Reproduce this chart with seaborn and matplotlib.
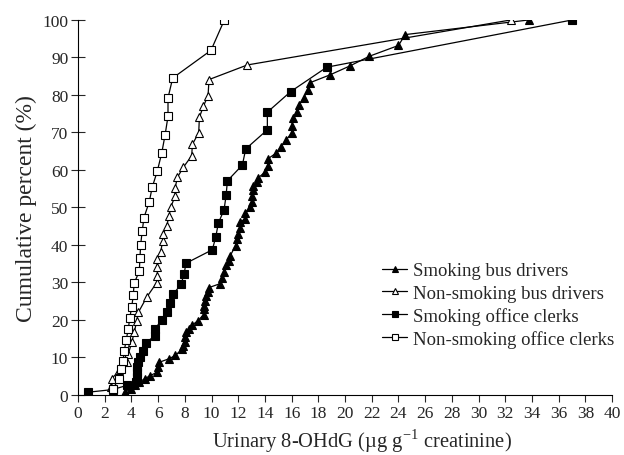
import numpy as np
import pandas as pd
import matplotlib
matplotlib.use("Agg")
import matplotlib.pyplot as plt
import seaborn as sns

sns.set_style("white")
plt.rcParams['font.family'] = ['Liberation Serif', 'DejaVu Serif']

# smoking bus drivers (filled triangles)
sbd_x = [3.5, 4.0, 4.3, 4.6, 5.0, 5.4, 5.9, 6.0, 6.1, 6.8, 7.3, 7.8, 7.9, 8.0, 8.0,
         8.1, 8.3, 8.5, 9.0, 9.4, 9.4, 9.4, 9.5, 9.6, 9.7, 9.8, 10.6, 10.8, 10.9, 11.1,
         11.3, 11.4, 11.8, 11.9, 12.0, 12.1, 12.1, 12.5, 12.5, 12.9, 13.0, 13.0, 13.1, 13.1,
         13.4, 13.5, 14.0, 14.2, 14.2, 14.8, 15.2, 15.6, 16.0, 16.0, 16.1, 16.4, 16.55, 16.9,
         17.2, 17.4, 18.9, 20.4, 21.8, 24.0, 24.5, 33.75]
sbd_y = [0.7, 1.6, 2.5, 3.4, 4.3, 5.1, 6.0, 7.4, 8.7, 9.6, 10.5, 12.3, 13.1, 14.0, 15.4,
         16.7, 17.6, 18.5, 19.8, 21.4, 22.9, 23.8, 25.0, 26.3, 27.4, 28.6, 29.6, 31.1, 32.7, 34.5,
         35.8, 37.1, 39.8, 41.6, 42.9, 44.4, 46.0, 46.9, 48.5, 50.0, 51.4, 53.1, 54.7, 55.8,
         56.8, 57.9, 59.4, 61.1, 62.9, 64.4, 66.2, 68.1, 69.8, 71.7, 73.8, 75.5, 77.3, 79.2,
         81.4, 83.3, 85.4, 87.8, 90.3, 93.2, 96.1, 100.0]

# non-smoking bus drivers (open triangles)
nbd_x = [2.47, 2.52, 3.1, 3.65, 3.77, 4.02, 4.22, 4.4, 4.52, 5.14, 5.89, 5.94, 5.94, 5.94,
         6.19, 6.34, 6.39, 6.64, 6.82, 6.94, 7.27, 7.27, 7.44, 7.89, 8.52, 8.56, 9.04, 9.09,
         9.39, 9.74, 9.81, 12.68, 32.4]
nbd_y = [2.0, 4.3, 6.5, 8.7, 10.9, 14.0, 16.7, 19.8, 22.0, 26.0, 29.9, 31.8, 34.0, 36.3,
         38.0, 41.1, 42.9, 45.0, 47.8, 50.0, 53.0, 55.1, 58.0, 60.7, 63.8, 66.8, 69.9, 74.0,
         77.0, 79.8, 84.1, 88.0, 100.0]

# smoking office clerks (filled squares)
soc_x = [0.78, 2.6, 3.65, 4.34, 4.4, 4.4, 4.44, 4.52, 4.64, 4.89, 5.09, 5.77, 5.77, 6.27,
         6.64, 6.89, 7.14, 7.72, 7.94, 8.09, 10.06, 10.31, 10.51, 10.94, 11.09, 11.19, 12.31,
         12.56, 14.18, 14.18, 15.93, 18.63, 37.0]
soc_y = [0.7, 1.4, 2.5, 3.5, 4.7, 6.0, 7.4, 8.7, 10.0, 11.8, 13.9, 15.8, 17.6, 20.0,
         22.0, 24.4, 26.9, 29.5, 32.2, 35.1, 38.7, 42.0, 45.8, 49.4, 53.2, 57.1, 61.3,
         65.6, 70.7, 75.4, 80.9, 87.4, 100.0]

# non-smoking office clerks (open squares)
noc_x = [2.6, 3.07, 3.22, 3.37, 3.47, 3.6, 3.77, 3.87, 4.02, 4.14, 4.2, 4.59, 4.64, 4.69,
         4.81, 4.94, 5.33, 5.56, 5.94, 6.27, 6.52, 6.74, 6.74, 7.09, 9.96, 10.96]
noc_y = [1.5, 4.3, 6.9, 9.1, 11.8, 14.5, 17.6, 20.4, 23.4, 26.5, 29.7, 33.0, 36.5, 40.0,
         43.7, 47.3, 51.4, 55.4, 59.7, 64.5, 69.3, 74.3, 79.2, 84.5, 91.9, 100.0]

series = [
    ("Smoking bus drivers", sbd_x, sbd_y, "^", "black"),
    ("Non-smoking bus drivers", nbd_x, nbd_y, "^", "white"),
    ("Smoking office clerks", soc_x, soc_y, "s", "black"),
    ("Non-smoking office clerks", noc_x, noc_y, "s", "white"),
]

fig, ax = plt.subplots(figsize=(6.24, 4.56), dpi=100)
fig.subplots_adjust(left=0.125, right=0.981, bottom=0.132, top=0.954)

for name, xs, ys, mk, fc in series:
    df = pd.DataFrame({"x": xs, "pct": ys})
    sns.lineplot(data=df, x="x", y="pct", ax=ax, color="black", lw=0.9,
                 estimator=None, sort=False, marker=mk, markersize=5.5,
                 markerfacecolor=fc, markeredgecolor="black", markeredgewidth=0.8,
                 label=name)

ax.set_xlim(0, 40)
ax.set_ylim(0, 100)
ax.set_xticks(np.arange(0, 41, 2))
ax.set_yticks(np.arange(0, 101, 10))
ax.tick_params(axis="x", direction="out", length=5, width=0.8, labelsize=12.5, pad=2)
ax.tick_params(axis="y", direction="inout", length=10, width=0.8, labelsize=12.5, pad=2)
ax.tick_params(bottom=True, left=True)
for s in ["top", "right"]:
    ax.spines[s].set_visible(False)
for s in ["left", "bottom"]:
    ax.spines[s].set_color("black")
    ax.spines[s].set_linewidth(0.8)

ax.set_xlabel("Urinary 8-OHdG (µg g$^{\\mathregular{-1}}$ creatinine)", fontsize=14.8)
ax.xaxis.set_label_coords(0.532, -0.083)
ax.set_ylabel("Cumulative percent (%)", fontsize=17, labelpad=4)

leg = ax.legend(loc="upper left", bbox_to_anchor=(0.569, 0.354), frameon=False,
                fontsize=13.5, handlelength=1.35, handletextpad=0.3, labelspacing=0.28,
                markerscale=0.7, borderaxespad=0, borderpad=0)

fig.savefig("out.png", dpi=100)
